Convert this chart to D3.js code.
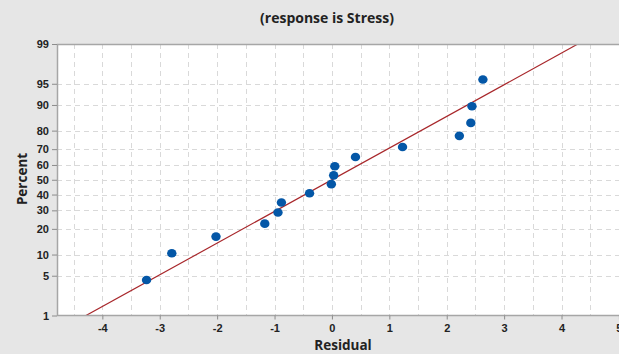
<!DOCTYPE html>
<html>
<head>
<meta charset="utf-8">
<script src="https://cdn.jsdelivr.net/npm/d3@7"></script>
<style>
  body { margin: 0; background: #e6e6e6; }
  svg { display: block; font-family: "Open Sans", "DejaVu Sans", sans-serif; }
  .tick text { font-size: 11px; font-weight: 600; fill: #222; }
</style>
</head>
<body>
<div id="chart"></div>
<script>
// residuals, sorted
const residuals = [-3.23, -2.79, -2.02, -1.17, -0.94, -0.88, -0.39, -0.01,
                   0.03, 0.05, 0.41, 1.23, 2.22, 2.42, 2.44, 2.63];
// plotted percent of each residual
const percents = [4.3, 10.4, 16.5, 22.6, 28.7, 34.8, 40.9, 47.0,
                  53.0, 59.1, 65.2, 71.3, 77.4, 83.5, 89.6, 95.7];
// fitted normal line
const fitMean = 0.0;
const fitSd = 1.842;

const yTicks = [1, 5, 10, 20, 30, 40, 50, 60, 70, 80, 90, 95, 99];
const xTicks = [-4, -3, -2, -1, 0, 1, 2, 3, 4, 5];
const xGrid = [-4.5, -4, -3.5, -3, -2.5, -2, -1.5, -1, -0.5, 0, 0.5, 1, 1.5, 2, 2.5, 3, 3.5, 4, 4.5, 5];

// inverse normal cdf (Acklam)
function probit(p) {
    const a = [-39.69683028665376, 220.9460984245205, -275.9285104469687, 138.3577518672690, -30.66479806614716, 2.506628277459239];
    const b = [-54.47609879822406, 161.5858368580409, -155.6989798598866, 66.80131188771972, -13.28068155288572];
    const c = [-0.007784894002430293, -0.3223964580411365, -2.400758277161838, -2.549732539343734, 4.374664141464968, 2.938163982698783];
    const d = [0.007784695709041462, 0.3224671290700398, 2.445134137142996, 3.754408661907416];
    const pl = 0.02425;
    let q, r;
    if (p < pl) {
        q = Math.sqrt(-2 * Math.log(p));
        return (((((c[0]*q+c[1])*q+c[2])*q+c[3])*q+c[4])*q+c[5]) / ((((d[0]*q+d[1])*q+d[2])*q+d[3])*q+1);
    }
    if (p > 1 - pl) {
        q = Math.sqrt(-2 * Math.log(1 - p));
        return -(((((c[0]*q+c[1])*q+c[2])*q+c[3])*q+c[4])*q+c[5]) / ((((d[0]*q+d[1])*q+d[2])*q+d[3])*q+1);
    }
    q = p - 0.5;
    r = q * q;
    return (((((a[0]*r+a[1])*r+a[2])*r+a[3])*r+a[4])*r+a[5])*q / (((((b[0]*r+b[1])*r+b[2])*r+b[3])*r+b[4])*r+1);
}

const width = 619, height = 354;
const plotLeft = 57, plotTop = 44, plotBottom = 315.5, plotRight = 637;

const svg = d3.select("#chart").append("svg")
    .attr("width", width)
    .attr("height", height);

svg.append("rect").attr("width", width).attr("height", height).attr("fill", "#e6e6e6");

const x = d3.scaleLinear().domain([-4.79, 5.315]).range([plotLeft, plotRight]);
const zScale = d3.scaleLinear().domain([probit(0.01), probit(0.99)]).range([plotBottom, plotTop]);
const y = p => zScale(probit(p / 100));

// plot area
svg.append("rect")
    .attr("x", plotLeft).attr("y", plotTop)
    .attr("width", plotRight - plotLeft).attr("height", plotBottom - plotTop)
    .attr("fill", "#ffffff");

svg.append("clipPath").attr("id", "plotclip")
    .append("rect").attr("x", plotLeft).attr("y", plotTop)
    .attr("width", plotRight - plotLeft).attr("height", plotBottom - plotTop);

// grid
const grid = svg.append("g").attr("stroke", "#d9d9d9").attr("stroke-width", 1)
    .attr("stroke-dasharray", "5,4");
grid.selectAll(".vgrid").data(xGrid).enter().append("line")
    .attr("class", "vgrid")
    .attr("x1", d => Math.round(x(d)) + 0.5).attr("x2", d => Math.round(x(d)) + 0.5)
    .attr("y1", plotTop).attr("y2", plotBottom);
grid.selectAll(".hgrid").data(yTicks.slice(1, -1)).enter().append("line")
    .attr("class", "hgrid")
    .attr("x1", plotLeft).attr("x2", plotRight)
    .attr("y1", d => Math.round(y(d)) + 0.5).attr("y2", d => Math.round(y(d)) + 0.5);

// fit line
const lineP = [1, 99];
svg.append("g").attr("clip-path", "url(#plotclip)")
    .append("path")
    .datum(lineP)
    .attr("fill", "none")
    .attr("stroke", "#a8272b")
    .attr("stroke-width", 1.2)
    .attr("d", d3.line()
        .x(p => x(fitMean + fitSd * probit(p / 100)))
        .y(p => y(p)));

// points
svg.append("g").selectAll("ellipse")
    .data(residuals.map((r, i) => ({r: r, p: percents[i]})))
    .enter().append("ellipse")
    .attr("cx", d => x(d.r))
    .attr("cy", d => y(d.p))
    .attr("rx", 4.7).attr("ry", 4.3)
    .attr("fill", "#0457a7");

// frame
svg.append("path")
    .attr("d", `M${plotRight},${plotTop + 0.5}H${plotLeft + 0.5}V${plotBottom}H${plotRight}`)
    .attr("fill", "none")
    .attr("stroke", "#a6a6a6")
    .attr("stroke-width", 1.5);

// axes
const xAxis = d3.axisBottom(x).tickValues(xTicks).tickSize(4).tickPadding(5)
    .tickFormat(d => String(d));
svg.append("g").attr("transform", `translate(0,${plotBottom})`).call(xAxis)
    .call(g => g.select(".domain").remove())
    .call(g => g.selectAll("line").attr("stroke", "#8c8c8c"));

const yAxis = d3.axisLeft(zScale)
    .tickValues(yTicks.map(p => probit(p / 100)))
    .tickFormat((d, i) => yTicks[i])
    .tickSize(5).tickPadding(3);
svg.append("g").attr("transform", `translate(${plotLeft},0)`).call(yAxis)
    .call(g => g.select(".domain").remove())
    .call(g => g.selectAll("line").attr("stroke", "#8c8c8c"));

// titles
svg.append("text")
    .attr("x", 327).attr("y", 23)
    .attr("text-anchor", "middle")
    .attr("font-size", 14).attr("font-weight", 700).attr("fill", "#222")
    .text("(response is Stress)");

svg.append("text")
    .attr("transform", "translate(27,179) rotate(-90)")
    .attr("text-anchor", "middle")
    .attr("font-size", 13.5).attr("font-weight", 700).attr("fill", "#222")
    .text("Percent");

svg.append("text")
    .attr("x", 343).attr("y", 350)
    .attr("text-anchor", "middle")
    .attr("font-size", 13.5).attr("font-weight", 700).attr("fill", "#222")
    .text("Residual");
</script>
</body>
</html>
